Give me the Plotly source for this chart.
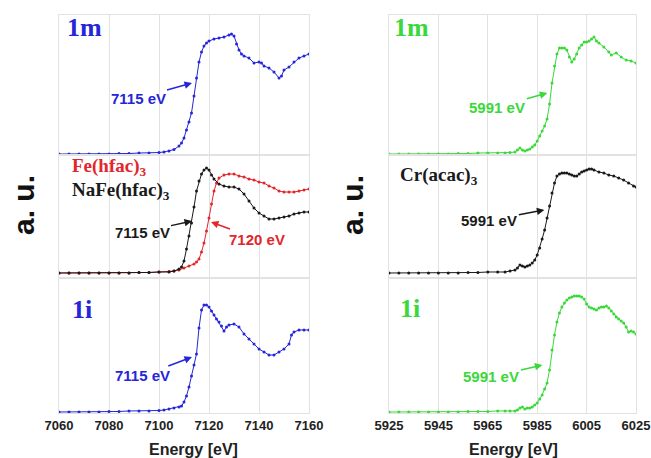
import plotly.graph_objects as go
from plotly.subplots import make_subplots

# ---------------- Fe K-edge (left column) ----------------
e_fe_1m = [7060, 7064, 7068, 7072, 7076, 7080, 7084, 7088, 7092, 7096, 7100, 7102, 7104, 7106, 7108,
           7109, 7110, 7111, 7112, 7113, 7114, 7115, 7116, 7117, 7118, 7119, 7120, 7122, 7124, 7126, 7128,
           7129, 7130, 7131, 7132, 7133, 7134, 7136, 7138, 7140, 7141, 7142, 7144, 7146, 7148, 7149, 7150,
           7152, 7154, 7156, 7158, 7160]
mu_fe_1m = [0.00, 0.00, 0.00, 0.00, 0.00, 0.00, 0.005, 0.005, 0.01, 0.01, 0.015, 0.02, 0.03, 0.045, 0.08,
            0.11, 0.16, 0.24, 0.32, 0.41, 0.58, 0.76, 0.92, 1.02, 1.08, 1.11, 1.13, 1.15, 1.16, 1.17, 1.19,
            1.20, 1.18, 1.10, 1.04, 1.00, 0.98, 0.96, 0.91, 0.92, 0.91, 0.88, 0.86, 0.82, 0.76, 0.78, 0.84,
            0.87, 0.92, 0.96, 0.98, 1.00]

e_nafe = [7060, 7064, 7068, 7072, 7076, 7080, 7084, 7088, 7092, 7096, 7100, 7104, 7106, 7108,
          7109, 7110, 7111, 7112, 7113, 7114, 7115, 7116, 7117, 7118, 7119, 7120, 7121, 7122,
          7124, 7126, 7128, 7130, 7132, 7134, 7136, 7138, 7140, 7142, 7144, 7146, 7148, 7150, 7152,
          7154, 7156, 7158, 7160]
mu_nafe = [0, 0, 0, 0, 0, 0, 0, 0, 0.005, 0.005, 0.01, 0.01, 0.02, 0.04,
           0.06, 0.12, 0.24, 0.37, 0.50, 0.66, 0.82, 0.92, 0.99, 1.03, 1.05, 1.03, 0.98, 0.94,
           0.89, 0.87, 0.86, 0.86, 0.84, 0.79, 0.72, 0.65, 0.60, 0.57, 0.54, 0.54, 0.55, 0.56, 0.57,
           0.59, 0.60, 0.61, 0.61]

e_fehfac = [7060, 7064, 7068, 7072, 7076, 7080, 7084, 7088, 7092, 7096, 7100, 7104,
            7106, 7108, 7110, 7112, 7114,
            7115, 7116, 7117, 7118, 7119, 7120, 7121, 7122, 7123, 7124,
            7126, 7128, 7130, 7132, 7134, 7136, 7138, 7140, 7142, 7144, 7146, 7148, 7150, 7152,
            7154, 7156, 7158, 7160]
mu_fehfac = [0, 0, 0, 0, 0, 0, 0, 0, 0.005, 0.005, 0.01, 0.015,
             0.02, 0.03, 0.05, 0.07, 0.09,
             0.11, 0.14, 0.21, 0.30, 0.42, 0.55, 0.69, 0.82, 0.90, 0.95,
             0.98, 0.99, 0.99, 0.97, 0.96, 0.94, 0.93, 0.91, 0.90, 0.87, 0.85, 0.82, 0.81, 0.81,
             0.81, 0.82, 0.83, 0.84]

e_fe_1i = [7060, 7064, 7068, 7072, 7076, 7080, 7084, 7088, 7092, 7096, 7100, 7102, 7104, 7106, 7108,
           7109, 7110, 7111, 7112, 7113, 7114, 7115, 7116, 7117, 7118, 7119, 7120, 7121, 7122, 7123,
           7124, 7125, 7126, 7127, 7128, 7130, 7132, 7134, 7136, 7138, 7140, 7142, 7144, 7146, 7148,
           7150, 7152, 7153, 7154, 7156, 7158, 7160]
mu_fe_1i = [0, 0, 0, 0, 0, 0.005, 0.005, 0.01, 0.01, 0.01, 0.015, 0.02, 0.03, 0.04, 0.05,
            0.06, 0.10, 0.16, 0.25, 0.36, 0.47, 0.58, 0.84, 1.02, 1.07, 1.07, 1.05, 1.01, 0.97, 0.93,
            0.90, 0.86, 0.81, 0.85, 0.87, 0.88, 0.85, 0.78, 0.73, 0.68, 0.63, 0.60, 0.57, 0.57, 0.60,
            0.63, 0.68, 0.77, 0.80, 0.82, 0.82, 0.82]

# ---------------- Cr K-edge (right column) ----------------
e_cr_1m = [5925, 5929, 5933, 5937, 5941, 5945, 5949, 5953, 5957, 5961, 5965, 5969, 5972, 5974, 5976,
           5977, 5978, 5979, 5980, 5981, 5982, 5983, 5984, 5985, 5986, 5987, 5988, 5989, 5990, 5991,
           5992, 5993, 5994, 5995, 5996, 5997, 5998, 5999, 6000, 6001, 6002, 6003, 6004, 6005, 6006,
           6007, 6008, 6009, 6010, 6012, 6014, 6015, 6017, 6019, 6021, 6023, 6025]
mu_cr_1m = [0, 0, 0, 0, 0, 0, 0, 0.005, 0.005, 0.01, 0.01, 0.01, 0.01, 0.015, 0.02,
            0.04, 0.06, 0.04, 0.03, 0.04, 0.05, 0.07, 0.09, 0.13, 0.18, 0.23, 0.28, 0.35, 0.50, 0.71,
            0.88, 1.00, 1.06, 1.06, 1.06, 1.04, 0.97, 0.92, 0.95, 1.00, 1.06, 1.09, 1.12, 1.12, 1.13,
            1.15, 1.17, 1.13, 1.11, 1.07, 1.02, 0.99, 1.01, 0.97, 0.94, 0.93, 0.91]

e_cracac = [5925, 5929, 5933, 5937, 5941, 5945, 5949, 5953, 5957, 5961, 5965, 5969, 5972, 5974, 5976,
            5977, 5978, 5979, 5980, 5981, 5982, 5983, 5984, 5985, 5986, 5987, 5988, 5989, 5990, 5991,
            5992, 5993, 5994, 5995, 5996, 5997, 5998, 5999, 6000, 6001, 6002, 6003, 6004, 6005, 6006,
            6007, 6008, 6010, 6012, 6014, 6016, 6018, 6020, 6022, 6024, 6025]
mu_cracac = [0, 0, 0, 0, 0, 0, 0, 0, 0.005, 0.005, 0.01, 0.01, 0.01, 0.02, 0.03,
             0.05, 0.08, 0.07, 0.06, 0.07, 0.08, 0.10, 0.13, 0.18, 0.25, 0.34, 0.43, 0.55, 0.67, 0.80,
             0.90, 0.97, 0.99, 1.00, 1.00, 1.00, 0.99, 0.98, 0.97, 0.97, 0.99, 1.01, 1.02, 1.03, 1.04,
             1.04, 1.03, 1.01, 1.00, 0.98, 0.97, 0.95, 0.93, 0.90, 0.87, 0.86]

e_cr_1i = [5925, 5929, 5933, 5937, 5941, 5945, 5949, 5953, 5957, 5961, 5965, 5969, 5972, 5974, 5976,
           5977, 5978, 5979, 5980, 5981, 5982, 5983, 5984, 5985, 5986, 5987, 5988, 5989, 5990, 5991,
           5992, 5993, 5994, 5995, 5996, 5997, 5998, 5999, 6000, 6001, 6002, 6003, 6004, 6005, 6006,
           6007, 6008, 6009, 6010, 6011, 6012, 6013, 6014, 6015, 6016, 6017, 6018, 6019, 6020, 6021,
           6022, 6023, 6024, 6025]
mu_cr_1i = [0, 0, 0, 0, 0, 0, 0, 0, 0.005, 0.005, 0.005, 0.01, 0.01, 0.01, 0.01,
            0.02, 0.04, 0.05, 0.03, 0.04, 0.04, 0.05, 0.07, 0.09, 0.13, 0.17, 0.23, 0.29, 0.42, 0.62,
            0.77, 0.90, 0.99, 1.05, 1.09, 1.12, 1.14, 1.15, 1.16, 1.16, 1.16, 1.15, 1.13, 1.08, 1.05,
            1.04, 1.03, 1.02, 1.04, 1.05, 1.05, 1.06, 1.04, 1.01, 0.98, 0.95, 0.93, 0.91, 0.89, 0.85,
            0.80, 0.81, 0.80, 0.78]

fe_ticks = [7060, 7080, 7100, 7120, 7140, 7160]
cr_ticks = [5925, 5945, 5965, 5985, 6005, 6025]

BLUE = "#2626d9"
GREEN = "#3ad83a"
RED = "#e3262b"
BLACK = "#1a1a1a"
GRID = "#e2e2e2"

fig = make_subplots(rows=3, cols=2)


def add(x, y, color, row, col):
    fig.add_trace(go.Scatter(x=x, y=y, mode="lines+markers",
                             line=dict(color=color, width=1),
                             marker=dict(color=color, size=3),
                             showlegend=False, hoverinfo="skip"), row=row, col=col)


add(e_fe_1m, mu_fe_1m, BLUE, 1, 1)
add(e_fehfac, mu_fehfac, RED, 2, 1)
add(e_nafe, mu_nafe, BLACK, 2, 1)
add(e_fe_1i, mu_fe_1i, BLUE, 3, 1)
add(e_cr_1m, mu_cr_1m, GREEN, 1, 2)
add(e_cracac, mu_cracac, BLACK, 2, 2)
add(e_cr_1i, mu_cr_1i, GREEN, 3, 2)

# plot area is 577 px wide (x 59..636) and 398 px tall (y 15..413)
xdom = {1: [0.0, 250 / 577], 2: [330 / 577, 1.0]}
ydom = {1: [0.6482, 1.0], 2: [0.3392, 0.6482], 3: [0.0, 0.3392]}
yrng = {1: [-0.01, 1.39], 2: [-0.05, 1.18], 3: [-0.01, 1.34]}

tickfont = dict(family="Liberation Sans, Arial", size=13, color="#222222", weight="bold")

for r in (1, 2, 3):
    for c in (1, 2):
        idx = (r - 1) * 2 + c
        sx = "xaxis" if idx == 1 else f"xaxis{idx}"
        sy = "yaxis" if idx == 1 else f"yaxis{idx}"
        ticks = fe_ticks if c == 1 else cr_ticks
        fig.layout[sx].update(domain=xdom[c], range=[ticks[0], ticks[-1]],
                              tickvals=ticks, ticktext=[str(t) for t in ticks],
                              showticklabels=(r == 3), tickfont=tickfont,
                              showgrid=True, gridcolor=GRID, gridwidth=1,
                              zeroline=False, showline=True, mirror=True,
                              linecolor=GRID, linewidth=1, ticks="",
                              automargin=False, ticklabeloverflow="allow")
        fig.layout[sy].update(domain=ydom[r], range=yrng[r], showgrid=False,
                              showticklabels=False, zeroline=False, showline=True,
                              mirror=True, linecolor=GRID, linewidth=1, ticks="",
                              automargin=False)


def ref(r, c):
    idx = (r - 1) * 2 + c
    return ("x" if idx == 1 else f"x{idx}"), ("y" if idx == 1 else f"y{idx}")


serif = "Liberation Serif, Times New Roman, serif"
sans = "Liberation Sans, Arial, sans-serif"

annos = []


def label(r, c, x, y, text, color, size, xanchor="center", family=serif):
    xr, yr = ref(r, c)
    annos.append(dict(x=x, y=y, xref=xr, yref=yr, text=text, showarrow=False,
                      xanchor=xanchor, yanchor="middle",
                      font=dict(family=family, size=size, color=color, weight="bold")))


def arrow(r, c, x, y, ax, ay, text, color):
    xr, yr = ref(r, c)
    annos.append(dict(x=x, y=y, xref=xr, yref=yr, ax=ax, ay=ay, text=text,
                      showarrow=True, arrowhead=2, arrowsize=1, arrowwidth=1.5,
                      arrowcolor=color,
                      font=dict(family=sans, size=15, color=color, weight="bold")))


label(1, 1, 7070, 1.27, "1m", BLUE, 26)
label(3, 1, 7069, 1.02, "1i", BLUE, 26)
label(1, 2, 5934.3, 1.27, "1m", GREEN, 26)
label(3, 2, 5933.5, 1.03, "1i", GREEN, 26)
label(2, 1, 7064.4, 1.06, "Fe(hfac)<sub>3</sub>", RED, 19, xanchor="left")
label(2, 1, 7064.4, 0.82, "NaFe(hfac)<sub>3</sub>", BLACK, 19, xanchor="left")
label(2, 2, 5928.6, 0.97, "Cr(acac)<sub>3</sub>", BLACK, 19, xanchor="left")

arrow(1, 1, 7113.2, 0.71, -54, 15, "7115 eV", BLUE)
arrow(2, 1, 7113.2, 0.52, -50, 11, "7115 eV", BLACK)
arrow(2, 1, 7120.8, 0.51, 46, 17, "7120 eV", RED)
arrow(3, 1, 7113.2, 0.55, -50, 19, "7115 eV", BLUE)
arrow(1, 2, 5989.1, 0.61, -50, 14, "5991 eV", GREEN)
arrow(2, 2, 5987.9, 0.63, -55, 10, "5991 eV", BLACK)
arrow(3, 2, 5987.1, 0.47, -51, 12, "5991 eV", GREEN)

for xp in ((24 - 59) / 577, (353 - 59) / 577):
    annos.append(dict(x=xp, y=0.5226, xref="paper", yref="paper", text="a. u.",
                      showarrow=False, textangle=-90, xanchor="center", yanchor="middle",
                      height=26,
                      font=dict(family=sans, size=30, color="#111111", weight="bold")))
for xp in ((193 - 59) / 577, (513 - 59) / 577):
    annos.append(dict(x=xp, y=-0.0905, xref="paper", yref="paper", text="Energy [eV]",
                      showarrow=False, xanchor="center", yanchor="middle",
                      font=dict(family=sans, size=16, color="#222222", weight="bold")))

fig.update_layout(width=651, height=458, margin=dict(l=59, r=15, t=15, b=45),
                  paper_bgcolor="white", plot_bgcolor="white", annotations=annos,
                  showlegend=False)

# remove the page's default 8 px body margin so the figure fills the window exactly
fig.write_html("out.html", config={"displayModeBar": False},
               post_script="document.body.style.margin='0px';document.body.style.overflow='hidden';")
